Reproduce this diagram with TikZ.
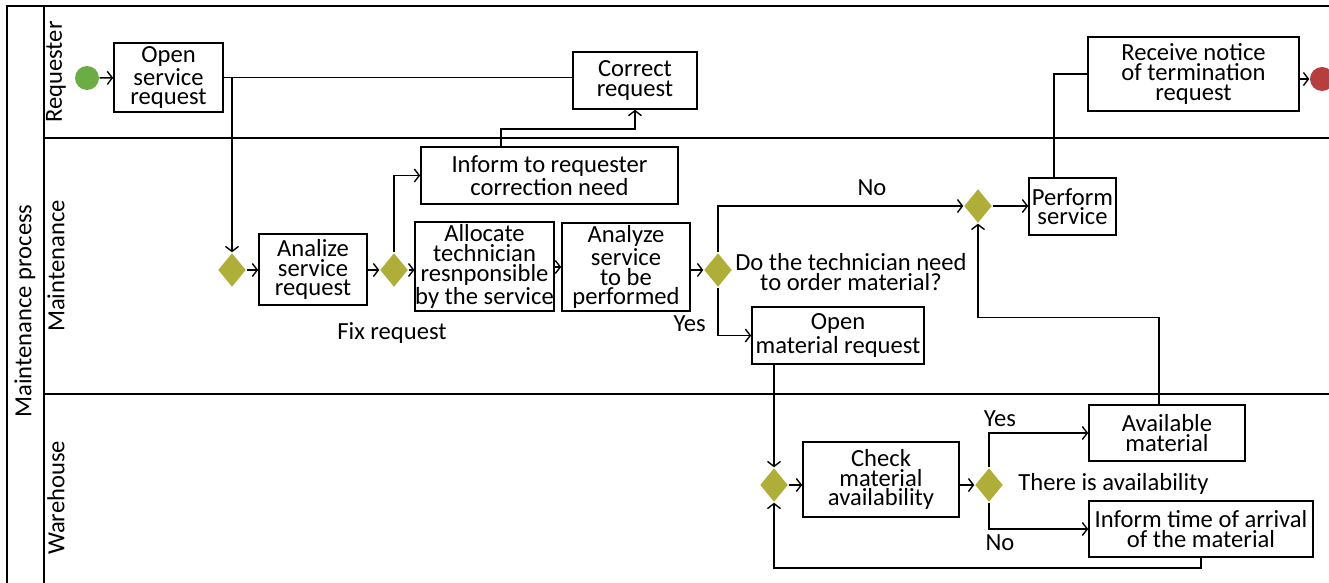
\documentclass[tikz,border=0pt]{standalone}
\usepackage{fontspec}
\setmainfont{Carlito}
\usetikzlibrary{shapes.geometric,arrows.meta}
\definecolor{gategold}{RGB}{174,174,56}
\definecolor{startgreen}{RGB}{108,172,68}
\definecolor{endred}{RGB}{182,62,62}
\begin{document}
\begin{tikzpicture}[x=0.5pt,y=-0.5pt,line width=0.7pt,
    font=\fontsize{12.3pt}{9.8pt}\selectfont,
    >={Straight Barb[length=2.5pt,width=6.5pt]},
    task/.style={draw,line width=0.8pt,align=center,inner sep=0pt},
    gate/.style={diamond,fill=gategold,inner sep=0pt,minimum width=14pt,minimum height=17pt},
    event/.style={circle,inner sep=0pt,minimum size=12pt}]
            \useasboundingbox (0,0) rectangle (1329,583);
            \draw (7,583) -- (7,6) -- (1329,6);
            \draw (44,6) -- (44,583);
            \draw (44,138) -- (1329,138);
            \draw (44,394) -- (1329,394);
            \node[rotate=90] (lpool) at (25,311) {Maintenance process};
            \node[rotate=90] (lreq) at (56,72) {Requester};
            \node[rotate=90] (lmnt) at (56,266) {Maintenance};
            \node[rotate=90] (lwh) at (56,498) {Warehouse};

            \node[event,fill=startgreen] (start) at (87,78) {};
            \node[event,fill=endred] (stop) at (1322,79) {};
            \node[task,minimum width=54.5pt,minimum height=34.5pt] (osr) at (168.5,77.5) {Open\\service\\request};
            \node[task,minimum width=62pt,minimum height=28.5pt] (corr) at (635,80.5) {Correct\\request};
            \node[task,minimum width=105.5pt,minimum height=37pt] (rcv) at (1193.5,74) {Receive notice\\of termination\\request};
            \node[task,minimum width=54pt,minimum height=35.5pt] (ana) at (313,269.5) {Analize\\service\\request};
            \node[task,minimum width=128.5pt,minimum height=28.5pt] (inf) at (549.5,175.5) {Inform to requester\\correction need};
            \node[task,minimum width=64.5pt,minimum height=44.5pt] (alloc) at (484.5,266.5) {Allocate\\technician\\resnponsible\\by the service};
            \node[task,minimum width=64pt,minimum height=44pt] (anz) at (626,267) {Analyze\\service\\to be\\performed};
            \node[task,minimum width=43.5pt,minimum height=28.5pt] (perf) at (1072.5,206.5) {Perform\\service};
            \node[task,minimum width=86pt,minimum height=28.5pt] (omr) at (838,335.5) {Open\\material request};
            \node[task,minimum width=78pt,minimum height=37.5pt] (chk) at (881,479.5) {Check\\material\\availability};
            \node[task,minimum width=78pt,minimum height=28pt] (avl) at (1167,433) {Available\\material};
            \node[task,minimum width=112pt,minimum height=28pt] (itm) at (1201,529) {Inform time of arrival\\of the material};

            \node[gate] (g1) at (232,270) {};
            \node[gate] (g2) at (394,270) {};
            \node[gate] (g3) at (718,270) {};
            \node[gate] (g4) at (978,206) {};
            \node[gate] (g5) at (774,485) {};
            \node[gate] (g6) at (989,485) {};

            \node (fixlbl) at (392,333) {Fix request};
            \node[align=center] (qlbl) at (851,272) {Do the technician need\\to order material?};
            \node[anchor=east] (yes1) at (713,324) {Yes};
            \node (no1) at (872,188) {No};
            \node[anchor=west] (avlq) at (1011,484) {There is availability};
            \node (yes2) at (1000,419) {Yes};
            \node (no2) at (1000,543) {No};

            \draw[->] (start) -- (osr);
            \draw (osr.east) -- (osr.east -| corr.west);
            \draw[->] (g1 |- osr.east) -- (g1.north);
            \draw[->] (g1.east) -- (g1.east -| ana.west);
            \draw[->] (ana.east |- g2.west) -- (g2.west);
            \draw[->] (g2.north) |- (inf.west);
            \draw[->] (g2.east) -- (g2.east -| alloc.west);
            \draw[->] (alloc.east |- anz.west) -- (anz.west);
            \draw[->] (anz.east |- g3.west) -- (g3.west);
            \draw[->] ([xshift=-24.25pt]inf.north) -- ++(0,-17) -| (corr.south);
            \draw[->] (g3.north) |- (g4.west);
            \draw[->] (g4.east) -- (g4.east -| perf.west);
            \draw ([xshift=-9.25pt]perf.north) |- (rcv.west);
            \draw[->] (rcv.east |- stop) -- (stop);
            \draw[->] (g3.south) |- (omr.west);
            \draw[->] (omr.south -| g5) -- (g5.north);
            \draw[->] (g5.east) -- (g5.east -| chk.west);
            \draw[->] (chk.east |- g6.west) -- (g6.west);
            \draw[->] (g6.north) |- (avl.west);
            \draw[->] (g6.south) |- (itm.west);
            \draw[->] (itm.south) -- ++(0,10) -| (g5.south);
            \draw[->] ([xshift=-4pt]avl.north) -- ++(0,-87) -| (g4.south);
        \end{tikzpicture}
\end{document}
